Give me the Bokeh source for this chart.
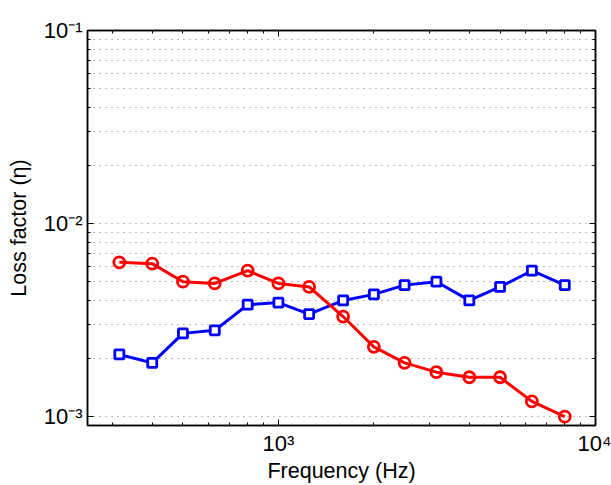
from bokeh.plotting import figure
from bokeh.models import LogAxis, FixedTicker, Range1d
from bokeh.embed import file_html
from bokeh.resources import INLINE

# Data (third-octave band centre frequencies)
freq = [315, 400, 500, 630, 800, 1000, 1250, 1600, 2000, 2500, 3150, 4000, 5000, 6300, 8000]
loss_red = [6.3e-3, 6.2e-3, 5.0e-3, 4.9e-3, 5.7e-3, 4.9e-3, 4.7e-3, 3.3e-3, 2.3e-3,
            1.9e-3, 1.7e-3, 1.6e-3, 1.6e-3, 1.2e-3, 1.0e-3]
loss_blue = [2.1e-3, 1.9e-3, 2.7e-3, 2.8e-3, 3.8e-3, 3.9e-3, 3.4e-3, 4.0e-3, 4.3e-3,
             4.8e-3, 5.0e-3, 4.0e-3, 4.7e-3, 5.7e-3, 4.8e-3]

x_major = [1e3, 1e4]
x_minor = [300, 400, 500, 600, 700, 800, 900, 2000, 3000, 4000, 5000, 6000, 7000, 8000, 9000]
x_labels = {1000: "10\u00b3", 10000: "10\u2074"}
y_major = [1e-3, 1e-2, 1e-1]
y_minor = [2e-3, 3e-3, 4e-3, 5e-3, 6e-3, 7e-3, 8e-3, 9e-3,
           2e-2, 3e-2, 4e-2, 5e-2, 6e-2, 7e-2, 8e-2, 9e-2]
y_labels = {0.001: "10\u207b\u00b3", 0.01: "10\u207b\u00b2", 0.1: "10\u207b\u00b9"}

FONT = "Liberation Sans"

p = figure(width=611, height=485, x_axis_type="log", y_axis_type="log",
           x_range=Range1d(250, 10000), y_range=Range1d(9e-4, 0.1),
           output_backend="svg", toolbar_location=None,
           min_border_left=87, min_border_right=16, min_border_top=30, min_border_bottom=60)

p.background_fill_color = "white"
p.border_fill_color = "white"
p.outline_line_color = "black"
p.outline_line_width = 1.5

xt = FixedTicker(ticks=x_major, minor_ticks=x_minor)
yt = FixedTicker(ticks=y_major, minor_ticks=y_minor)


def style_axis(ax):
    ax.axis_line_color = "black"
    ax.axis_line_width = 1.5
    ax.major_tick_in = 6
    ax.major_tick_out = 0
    ax.minor_tick_in = 3
    ax.minor_tick_out = 0
    ax.major_tick_line_color = "black"
    ax.minor_tick_line_color = "black"
    ax.major_label_text_font = FONT
    ax.major_label_text_font_size = "22px"
    ax.major_label_text_color = "black"
    ax.axis_label_text_font = FONT
    ax.axis_label_text_font_size = "21.5px"
    ax.axis_label_text_font_style = "normal"
    ax.axis_label_text_color = "black"


xa = p.xaxis[0]
xa.ticker = xt
style_axis(xa)
xa.major_label_overrides = x_labels
xa.axis_label = "Frequency (Hz)"
xa.major_label_standoff = 5
xa.axis_label_standoff = 0

ya = p.yaxis[0]
ya.ticker = yt
style_axis(ya)
ya.major_label_overrides = y_labels
ya.axis_label = "Loss factor (\u03b7)"
ya.major_label_standoff = 5
ya.axis_label_standoff = 10

top = LogAxis(ticker=xt)
style_axis(top)
top.major_label_text_font_size = "1px"
top.major_label_text_color = None
top.major_label_standoff = 0
p.add_layout(top, "above")

right = LogAxis(ticker=yt)
style_axis(right)
right.major_label_text_font_size = "1px"
right.major_label_text_color = None
right.major_label_standoff = 0
p.add_layout(right, "right")

p.xgrid.grid_line_color = None
p.ygrid.ticker = yt
p.ygrid.grid_line_color = "#444444"
p.ygrid.grid_line_alpha = 0.75
p.ygrid.grid_line_dash = "1 5"
p.ygrid.minor_grid_line_color = "#444444"
p.ygrid.minor_grid_line_alpha = 0.75
p.ygrid.minor_grid_line_dash = "1 5"

p.line(freq, loss_blue, line_color="#0000ff", line_width=3)
p.scatter(freq, loss_blue, marker="square", size=9, line_color="#0000ff",
          line_width=2.8, fill_color="white")
p.line(freq, loss_red, line_color="#ff0000", line_width=3)
p.scatter(freq, loss_red, marker="circle", size=11, line_color="#ff0000",
          line_width=2.8, fill_color=None)

open("out.html", "w").write(file_html(p, INLINE))
